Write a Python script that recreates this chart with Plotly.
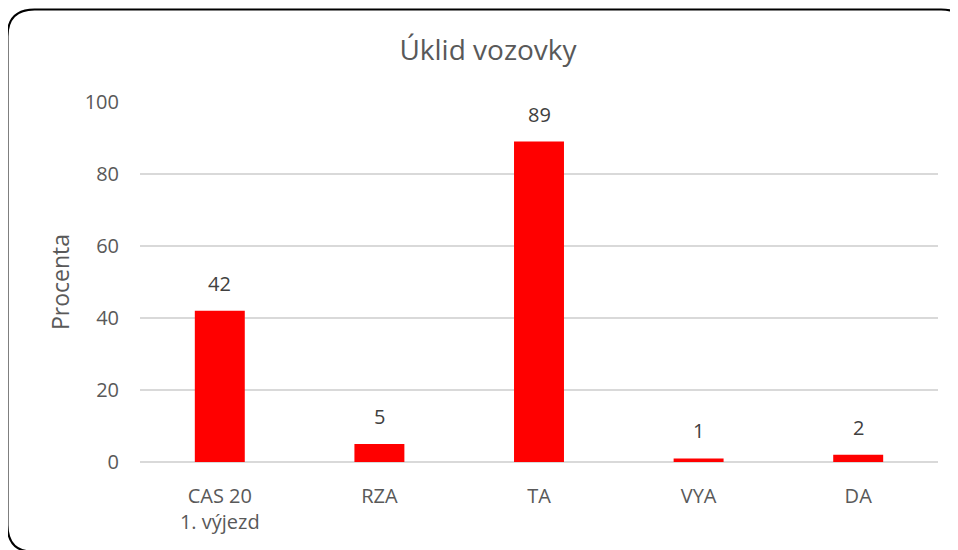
import plotly.graph_objects as go

categories = ["CAS 20<br>1. výjezd", "RZA", "TA", "VYA", "DA"]
values = [42, 5, 89, 1, 2]
tick_vals = [0, 20, 40, 60, 80, 100]

W, H = 958, 550
OFF = 8  # page offset of the figure (body margin)
# plot area in page pixels
PL, PR, PT, PB = 140, 938, 102, 462
ML, MT = PL - OFF, PT - OFF
MR, MB = W - (PR - OFF), H - (PB - OFF)
PW, PH = PR - PL, PB - PT

def px(x):  # page x -> paper
    return (x - PL) / PW

def py(y):  # page y -> paper
    return (PB - y) / PH

FONT = "Open Sans"
GREY = "#595959"
DARK = "#404040"

fig = go.Figure()
fig.add_trace(go.Bar(
    x=categories, y=values,
    marker=dict(color="#ff0000", line=dict(width=0)),
    cliponaxis=False,
    hoverinfo="skip",
))

annotations = []
for c, v in zip(categories, values):
    annotations.append(dict(x=c, y=v, xref="x", yref="y", text=str(v),
                            showarrow=False, yanchor="bottom", yshift=12,
                            font=dict(family=FONT, size=20, color=DARK)))

# rounded border
x0, y0, x1, y1, r = 7.5, 9.5, 968, 552, 27
path = (
    f"M {px(x0 + r)},{py(y0)} L {px(x1 - r)},{py(y0)} "
    f"Q {px(x1)},{py(y0)} {px(x1)},{py(y0 + r)} "
    f"L {px(x1)},{py(y1 - r)} Q {px(x1)},{py(y1)} {px(x1 - r)},{py(y1)} "
    f"L {px(x0 + r)},{py(y1)} Q {px(x0)},{py(y1)} {px(x0)},{py(y1 - r)} "
    f"L {px(x0)},{py(y0 + r)} Q {px(x0)},{py(y0)} {px(x0 + r)},{py(y0)} Z"
)

annotations.append(dict(text="Procenta", textangle=-90, x=px(60), y=py(282),
                        xref="paper", yref="paper", xanchor="center", yanchor="middle",
                        showarrow=False, font=dict(family=FONT, size=23, color=GREY)))

fig.update_layout(
    width=W, height=H,
    margin=dict(l=ML, r=MR, t=MT, b=MB),
    paper_bgcolor="white", plot_bgcolor="white",
    bargap=0.687,
    showlegend=False,
    title=dict(text="Úklid vozovky", x=px(488), xref="paper", xanchor="center",
               y=(H - (50 - OFF)) / H, yanchor="middle", yref="container",
               font=dict(family=FONT, size=28, color=GREY)),
    font=dict(family=FONT, color=GREY),
    shapes=[dict(type="path", path=path, xref="paper", yref="paper",
                 line=dict(color="black", width=2), fillcolor="rgba(0,0,0,0)")],
    annotations=annotations,
)
fig.update_xaxes(showgrid=False, showline=False, ticks="",
                 tickfont=dict(family=FONT, size=20, color=GREY),
                 ticklabelstandoff=20)
fig.update_yaxes(range=[0, 100], tickvals=tick_vals, showgrid=True,
                 gridcolor="#d9d9d9", gridwidth=1.5, zeroline=True,
                 zerolinecolor="#d9d9d9", zerolinewidth=1.5, showline=False,
                 ticks="", tickfont=dict(family=FONT, size=20, color=GREY),
                 ticklabelstandoff=20)

fig.write_html("out.html")
